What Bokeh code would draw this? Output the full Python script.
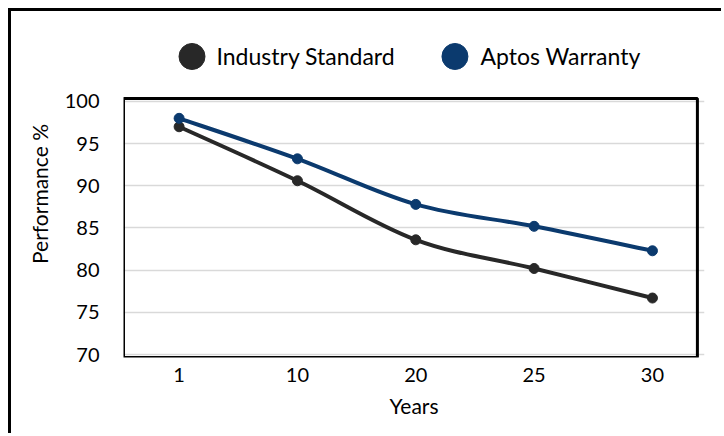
from bokeh.plotting import figure
from bokeh.models import Range1d, FixedTicker, BoxAnnotation
from bokeh.core.properties import value
from bokeh.embed import file_html
from bokeh.resources import INLINE

years = ["1", "10", "20", "25", "30"]
industry_standard = [97.0, 90.6, 83.6, 80.2, 76.7]
aptos_warranty = [98.0, 93.2, 87.8, 85.2, 82.3]
y_ticks = [70, 75, 80, 85, 90, 95, 100]
series_names = ["Industry Standard", "Aptos Warranty"]

FONT = "Lato"
C_IND = "#282828"
C_APT = "#0b3a6e"

xs = list(range(len(years)))
Y0, Y1 = 69.65, 100.35

p = figure(width=713, height=425, output_backend="svg", toolbar_location=None,
           x_range=Range1d(-0.47, 4.44), y_range=Range1d(Y0, 108.41),
           min_border_left=112, min_border_right=20, min_border_top=19, min_border_bottom=79)
p.styles = {"border-top": "3px solid black", "border-left": "3px solid black",
            "margin-top": "8px", "margin-left": "8px"}

p.outline_line_color = None
p.background_fill_color = "white"
p.border_fill_color = "white"
p.xgrid.grid_line_color = None
p.ygrid.grid_line_color = "#d9d9d9"
p.ygrid.grid_line_width = 1.5
p.ygrid.bounds = (y_ticks[0], y_ticks[-1])

p.xaxis.ticker = FixedTicker(ticks=xs)
p.xaxis.major_label_overrides = {i: y for i, y in enumerate(years)}
p.yaxis.ticker = FixedTicker(ticks=y_ticks)
p.yaxis.bounds = (y_ticks[0], y_ticks[-1])
for ax in (p.xaxis[0], p.yaxis[0]):
    ax.axis_line_color = None
    ax.major_tick_line_color = None
    ax.minor_tick_line_color = None
    ax.major_label_text_font = FONT
    ax.major_label_text_font_size = "20px"
    ax.major_label_text_color = "black"
    ax.axis_label_text_font = FONT
    ax.axis_label_text_font_size = "21px"
    ax.axis_label_text_font_style = "normal"
    ax.axis_label_text_color = "black"
p.xaxis.axis_label = "Years"
p.yaxis.axis_label = "Performance %"
p.xaxis.major_label_standoff = 4
p.xaxis.axis_label_standoff = 8
p.yaxis.major_label_standoff = 18
p.yaxis.axis_label_standoff = 10

# plot-area box
p.add_layout(BoxAnnotation(bottom=Y0, top=Y1, right=4.38, fill_alpha=0,
                           line_color="black", line_alpha=1, line_width=3))


def smooth(ys):
    # Catmull-Rom spline segments as cubic Bezier curves
    n = len(ys)
    pts = list(zip(xs, ys))
    seg = dict(x0=[], y0=[], x1=[], y1=[], cx0=[], cy0=[], cx1=[], cy1=[])
    for i in range(n - 1):
        p0 = pts[i - 1] if i > 0 else pts[i]
        p1 = pts[i]
        p2 = pts[i + 1]
        p3 = pts[i + 2] if i + 2 < n else pts[i + 1]
        seg["x0"].append(p1[0]); seg["y0"].append(p1[1])
        seg["x1"].append(p2[0]); seg["y1"].append(p2[1])
        seg["cx0"].append(p1[0] + (p2[0] - p0[0]) / 6); seg["cy0"].append(p1[1] + (p2[1] - p0[1]) / 6)
        seg["cx1"].append(p2[0] - (p3[0] - p1[0]) / 6); seg["cy1"].append(p2[1] - (p3[1] - p1[1]) / 6)
    return seg


for ys, col in ((industry_standard, C_IND), (aptos_warranty, C_APT)):
    p.bezier(source=smooth(ys), x0="x0", y0="y0", x1="x1", y1="y1",
             cx0="cx0", cy0="cy0", cx1="cx1", cy1="cy1", line_color=col, line_width=4)
    p.scatter(xs, ys, size=10, fill_color=col, line_color=col)

# legend above the plot area
LEG_Y = 105.33
p.scatter(x=[0.109, 2.331], y=[LEG_Y, LEG_Y], size=26, fill_color=[C_IND, C_APT],
          line_color=[C_IND, C_APT])
p.text(x=[0.316, 2.547], y=[LEG_Y, LEG_Y], text=series_names, text_font=value(FONT),
       text_font_size="23px", text_baseline="middle", text_align="left", text_color="black")

open("out.html", "w").write(file_html(p, INLINE))
